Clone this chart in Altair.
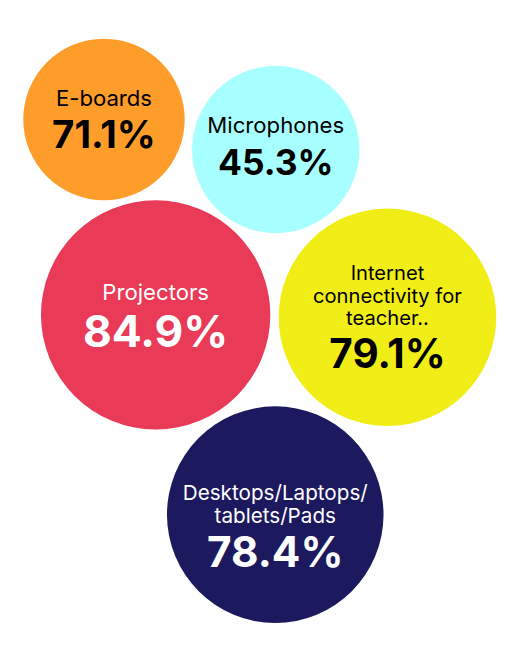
import altair as alt
import pandas as pd

# ---- chart values ----
categories = ["E-boards", "Microphones", "Projectors",
              "Internet connectivity for teacher..", "Desktops/Laptops/tablets/Pads"]
values = [71.1, 45.3, 84.9, 79.1, 78.4]
label_lines = [["E-boards"], ["Microphones"], ["Projectors"],
               ["Internet", "connectivity for", "teacher.."],
               ["Desktops/Laptops/", "tablets/Pads"]]
fill_colors = ["#FF9D2B", "#A8FFFF", "#E93A58", "#F0EE16", "#1C195F"]
text_colors = ["#000000", "#000000", "#FFFFFF", "#000000", "#FFFFFF"]

# ---- bubble layout (page pixel units) ----
bubble_cx = [105.5, 280, 158, 393.5, 279.5]
bubble_cy = [116, 146.5, 314.5, 317, 517.5]
bubble_d = [164, 170, 233, 221, 220]
label_first_base = [102, 130, 299, 279, 503]
value_base = [145, 172, 347, 368, 571]
label_size = [22.5, 22.5, 22.5, 20.5, 21]
value_size = [39, 36, 45, 41, 43]
LINE_H = 23

FONT = "Inter"
W, H = 511, 658

bubbles = pd.DataFrame({
    "category": categories,
    "value": values,
    "cx": bubble_cx,
    "cy": bubble_cy,
    "area": [d * d for d in bubble_d],
    "fill": fill_colors,
})

labels = pd.DataFrame({
    "text": ["\n".join(lines) for lines in label_lines],
    "x": bubble_cx,
    "y": label_first_base,
    "color": text_colors,
    "fs": label_size,
})

vals = pd.DataFrame({
    "text": [f"{v:.1f}%" for v in values],
    "x": bubble_cx,
    "y": value_base,
    "color": text_colors,
    "fs": value_size,
})

xs = alt.Scale(domain=[8, 8 + W], range=[0, W])
ys = alt.Scale(domain=[8, 8 + H], range=[0, H])
X = lambda f: alt.X(f, type="quantitative", scale=xs, axis=None)
Y = lambda f: alt.Y(f, type="quantitative", scale=ys, axis=None)

circles = alt.Chart(bubbles).mark_circle(opacity=1, strokeWidth=0).encode(
    x=X("cx"), y=Y("cy"),
    size=alt.Size("area:Q", scale=None, legend=None),
    color=alt.Color("fill:N", scale=None, legend=None),
    tooltip=["category:N", "value:Q"],
)

label_layer = alt.Chart(labels).mark_text(
    font=FONT, fontWeight="normal", align="center", baseline="alphabetic",
    lineBreak="\n", lineHeight=LINE_H,
).encode(
    x=X("x"), y=Y("y"), text="text:N",
    size=alt.Size("fs:Q", scale=None, legend=None),
    color=alt.Color("color:N", scale=None, legend=None),
)

value_layer = alt.Chart(vals).mark_text(
    font=FONT, fontWeight="bold", align="center", baseline="alphabetic"
).encode(
    x=X("x"), y=Y("y"), text="text:N",
    size=alt.Size("fs:Q", scale=None, legend=None),
    color=alt.Color("color:N", scale=None, legend=None),
)

chart = alt.layer(circles, label_layer, value_layer).properties(
    width=W, height=H, padding=0, autosize=alt.AutoSizeParams(type="none"),
    background="#FFFFFF",
).configure_view(stroke=None)

chart.save("out.html", embed_options={"renderer": "svg", "actions": False})
